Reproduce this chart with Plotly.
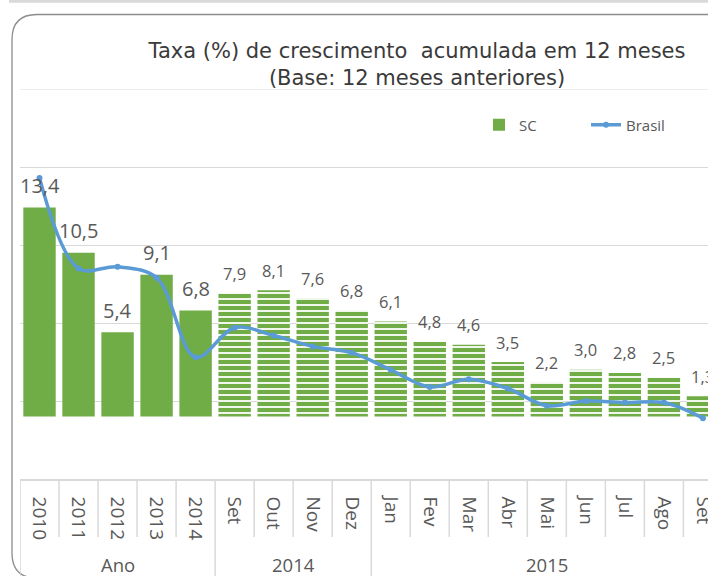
import plotly.graph_objects as go

# ---------------- data ----------------
periods = ["2010", "2011", "2012", "2013", "2014",
           "Set", "Out", "Nov", "Dez",
           "Jan", "Fev", "Mar", "Abr", "Mai", "Jun", "Jul", "Ago", "Set"]
groups = ["Ano"] * 5 + ["2014"] * 4 + ["2015"] * 9
sc = [13.4, 10.5, 5.4, 9.1, 6.8,
      7.9, 8.1, 7.6, 6.8,
      6.1, 4.8, 4.6, 3.5, 2.2, 3.0, 2.8, 2.5, 1.3]
brasil = [15.3, 9.5, 9.6, 8.9, 3.8,
          5.7, 5.2, 4.5, 4.1,
          3.0, 1.9, 2.4, 1.8, 0.7, 1.0, 0.9, 0.9, -0.1]

title_l1 = "Taxa (%) de crescimento  acumulada em 12 meses"
title_l2 = "(Base: 12 meses anteriores)"

# ---------------- styling ----------------
W, H = 708, 576
ML, MR, MT, MB = 20, 0, 89, 97
Y_MIN, Y_MAX, Y_STEP, Y_TICK0 = -4, 21, 5, 1
GREEN = "#70AD47"
BLUE = "#5B9BD5"
GRID = "#d9d9d9"
TXT = "#595959"
LABEL_FONT = "Open Sans"
TICK_FONT = "Open Sans"


def px_x(px):
    return (px - ML) / (W - ML - MR)


def px_y(py):
    return (H - MB - py) / (H - MT - MB)


xs = list(range(len(periods)))
pattern_shapes = ["" if g == "Ano" else "-" for g in groups]

fig = go.Figure()
fig.add_trace(go.Bar(
    x=xs, y=sc, name="SC",
    marker=dict(color=GREEN, line=dict(width=0),
                pattern=dict(shape=pattern_shapes, fillmode="replace",
                             fgcolor=GREEN, fgopacity=1, bgcolor="white",
                             size=6, solidity=0.7)),
))
fig.add_trace(go.Scatter(
    x=xs, y=brasil, name="Brasil", mode="lines+markers",
    line=dict(color=BLUE, width=3.5, shape="spline", smoothing=1.0),
    marker=dict(color=BLUE, size=6, symbol="circle"),
))

annotations = []
for x, v, g in zip(xs, sc, groups):
    annual = g == "Ano"
    annotations.append(dict(
        x=x, y=v, xref="x", yref="y", text=f"{v:.1f}".replace(".", ","),
        showarrow=False, yanchor="middle", yshift=22 if annual else 20,
        font=dict(family=LABEL_FONT, size=20 if annual else 16.5, color=TXT),
    ))

# group labels
uniq = []
for g in groups:
    if g not in uniq:
        uniq.append(g)
for g in uniq:
    idx = [i for i, gg in enumerate(groups) if gg == g]
    annotations.append(dict(
        x=(idx[0] + idx[-1]) / 2, y=px_y(564), xref="x", yref="paper",
        text=g, showarrow=False, yanchor="middle",
        font=dict(family=LABEL_FONT, size=18.5, color=TXT),
    ))

shapes = []
# light band at very top of picture
shapes.append(dict(type="rect", xref="paper", yref="paper",
                   x0=px_x(9), x1=px_x(W + 5), y0=px_y(0), y1=px_y(2.7),
                   fillcolor=GRID, line=dict(width=0), layer="below"))
# top gridline (at the upper end of the value range)
shapes.append(dict(type="line", xref="paper", yref="y", x0=0, x1=1, y0=Y_MAX, y1=Y_MAX,
                   line=dict(color=GRID, width=1), layer="below"))
# rounded chart border
border = (f"M {px_x(W + 20)},{px_y(14.5)} L {px_x(37)},{px_y(14.5)} "
          f"Q {px_x(12)},{px_y(14.5)} {px_x(12)},{px_y(39.5)} "
          f"L {px_x(12)},{px_y(553)} Q {px_x(12)},{px_y(578)} {px_x(37)},{px_y(578)} "
          f"L {px_x(W + 20)},{px_y(578)}")
shapes.append(dict(type="path", xref="paper", yref="paper", path=border,
                   line=dict(color="#8c8c8c", width=1.3)))
# category separators in label area
n = len(periods)
for i in range(n + 1):
    b = i - 0.5
    is_group = i == 0 or i == n or groups[i] != groups[i - 1]
    shapes.append(dict(type="line", xref="x", yref="paper",
                       x0=b, x1=b, y0=0, y1=px_y(580 if is_group else 537),
                       line=dict(color=GRID, width=1.5)))

fig.update_layout(
    width=W, height=H, autosize=False,
    margin=dict(l=ML, r=MR, t=MT, b=MB, pad=0, autoexpand=False),
    paper_bgcolor="white", plot_bgcolor="white",
    title=dict(text=title_l1 + "<br>" + title_l2,
               x=417 / W, xref="container", xanchor="center",
               y=1 - 58 / H, yref="container", yanchor="middle",
               font=dict(family="DejaVu Sans", size=21, color="#3a3a3a")),
    showlegend=True,
    legend=dict(orientation="h", x=px_x(479), y=px_y(125), xanchor="left", yanchor="middle",
                font=dict(family=LABEL_FONT, size=15, color=TXT),
                entrywidth=62, entrywidthmode="pixels",
                bgcolor="rgba(0,0,0,0)", traceorder="normal"),
    bargap=0.17,
    xaxis=dict(range=[-0.5, 17.13], tickmode="array", tickvals=xs, ticktext=periods,
               tickangle=90, showgrid=False, zeroline=False, automargin=False,
               ticklabeloverflow="allow",
               showline=True, linecolor=GRID, linewidth=1.5, ticks="",
               ticklabelstandoff=12,
               tickfont=dict(family=TICK_FONT, size=19, color=TXT)),
    yaxis=dict(range=[Y_MIN, Y_MAX], tick0=Y_TICK0, dtick=Y_STEP, showgrid=True,
               gridcolor=GRID, gridwidth=1, automargin=False,
               showticklabels=False, zeroline=False, showline=False, ticks=""),
    annotations=annotations,
    shapes=shapes,
)

fig.write_html("out.html", config={"displayModeBar": False},
               post_script="document.body.style.margin='0';document.body.style.padding='0';")
